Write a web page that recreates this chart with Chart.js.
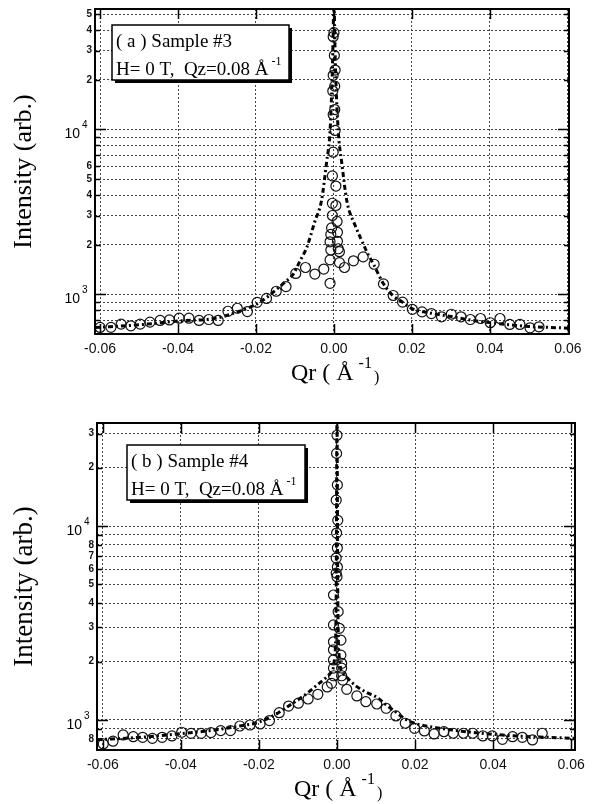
<!DOCTYPE html>
<html>
<head>
<meta charset="utf-8">
<script src="https://cdn.jsdelivr.net/npm/chart.js@4.4.1/dist/chart.umd.min.js"></script>
<style>
  html, body { margin: 0; padding: 0; background: #fff; }
  #wrap { position: relative; width: 594px; height: 804px; }
  canvas { position: absolute; left: 0; }
</style>
</head>
<body>
<div id="wrap">
  <canvas id="chartA" width="594" height="400" style="top:0"></canvas>
  <canvas id="chartB" width="594" height="404" style="top:400px"></canvas>
</div>
<script>
// ---- shared axis ticks ----
const X_TICKS = [-0.06, -0.04, -0.02, 0, 0.02, 0.04, 0.06];
const X_TICK_LABELS = ["-0.06", "-0.04", "-0.02", "0.00", "0.02", "0.04", "0.06"];

// ---- panel (a): sample #3 ----
const Y_TICKS_A = [700, 800, 900, 1000, 2000, 3000, 4000, 5000, 6000, 7000, 8000, 9000, 10000, 20000, 30000, 40000, 50000];
const Y_LABELS_A = ["", "", "", "10^3", "2", "3", "4", "5", "6", "", "", "", "10^4", "2", "3", "4", "5"];

const QR_A = [
  -0.0600, -0.0572, -0.0546, -0.0521, -0.0497, -0.0472, -0.0446, -0.0422, -0.0397, -0.0372,
  -0.0346, -0.0321, -0.0297, -0.0272, -0.0248, -0.0222, -0.0197, -0.0173, -0.0148, -0.0123,
  -0.0098, -0.0073, -0.0049, -0.0026, -0.0010,
  -0.0010, -0.0008, -0.0010, -0.0008, -0.0006, -0.0004, -0.0004, -0.0004,
  -0.0002, 0.0003, -0.0002, 0.0002, -0.0003, 0.0002, -0.0002, 0.0003, 0.0001, -0.0002, 0.0000,
  0.0005, 0.0005, 0.0008, 0.0009, 0.0009, 0.0011, 0.0014, 0.0014,
  0.0027, 0.0050, 0.0075, 0.0103, 0.0127, 0.0152, 0.0176, 0.0201, 0.0226, 0.0250,
  0.0276, 0.0301, 0.0326, 0.0350, 0.0376, 0.0401, 0.0426, 0.0451, 0.0477, 0.0503, 0.0526
];
const INT_A = [
  631, 632, 661, 646, 661, 680, 696, 701, 718, 718,
  696, 705, 696, 791, 825, 788, 896, 946, 1046, 1117,
  1341, 1457, 1330, 1426, 1169,
  1620, 1860, 2085, 2310, 2530, 3010, 3570, 5230,
  7280, 9860, 12300, 13200, 17100, 18300, 21300, 22900, 28100, 36500, 38600,
  4540, 3460, 2770, 2380, 2100, 1892, 1817, 1560,
  1457, 1600, 1689, 1525, 1159, 986, 899, 813, 784, 766,
  732, 759, 732, 705, 715, 674, 715, 658, 658, 628, 637
];
const FIT_QR_A = [
  -0.0613, -0.05, -0.04, -0.03, -0.025, -0.02, -0.0175, -0.015, -0.0125, -0.0104,
  -0.0087, -0.007, -0.0049, -0.0032, -0.0019, -0.001, -0.0004, 0.0, 0.0004, 0.0011,
  0.002, 0.0033, 0.0055, 0.007, 0.0085, 0.0103, 0.0127, 0.015, 0.0175, 0.02,
  0.025, 0.03, 0.035, 0.04, 0.045, 0.05, 0.0603
];
const FIT_INT_A = [
  630, 655, 690, 720, 780, 870, 950, 1060, 1190, 1330,
  1600, 1920, 2770, 3700, 6300, 9800, 22900, 55000, 22900, 9800,
  6300, 3700, 2600, 2150, 1800, 1500, 1160, 990, 900, 820,
  770, 735, 700, 675, 655, 640, 625
];

// ---- panel (b): sample #4 ----
const Y_TICKS_B = [800, 900, 1000, 2000, 3000, 4000, 5000, 6000, 7000, 8000, 9000, 10000, 20000, 30000];
const Y_LABELS_B = ["8", "", "10^3", "2", "3", "4", "5", "6", "7", "8", "", "10^4", "2", "3"];

const QR_B = [
  -0.0599, -0.0574, -0.0548, -0.0522, -0.0498, -0.0473, -0.0448, -0.0423, -0.0398, -0.0374,
  -0.0348, -0.0323, -0.0298, -0.0273, -0.0249, -0.0223, -0.0197, -0.0173, -0.0148, -0.0124,
  -0.0099, -0.0074, -0.0049, -0.0025,
  -0.0014, -0.0009, -0.0009, -0.0009, -0.0009, -0.0009, -0.0009, -0.0009,
  0.0015, 0.0012, 0.0012, 0.0012, 0.0010, 0.0010, 0.0006, 0.0003, 0.0000,
  -0.0002, 0.0001, -0.0002, 0.0001, -0.0001, 0.0002, -0.0002, 0.0001, -0.0001, 0.0000,
  0.0025, 0.0051, 0.0074, 0.0102, 0.0126, 0.0151, 0.0175, 0.0199, 0.0224, 0.0249,
  0.0274, 0.0298, 0.0324, 0.0348, 0.0374, 0.0398, 0.0424, 0.0450, 0.0475, 0.0501, 0.0526
];
const INT_B = [
  752, 777, 837, 820, 814, 804, 814, 827, 864, 853,
  853, 860, 881, 881, 931, 942, 954, 993, 1090, 1180,
  1220, 1283, 1356, 1480,
  1545, 1690, 1850, 2040, 2300, 2530, 3090, 4410,
  1607, 1690, 1850, 1960, 2160, 2580, 2970, 3620, 5480,
  5720, 6150, 6840, 7700, 9200, 10700, 13600, 16300, 23700, 29400,
  1439, 1330, 1242, 1209, 1149, 1049, 962, 906, 878, 847,
  870, 854, 854, 854, 827, 827, 795, 820, 814, 789, 854
];
const FIT_QR_B = [
  -0.0615, -0.05, -0.04, -0.03, -0.025, -0.02, -0.015, -0.0124, -0.01, -0.0075,
  -0.005, -0.003, -0.0015, -0.0006, -0.0002, 0.0, 0.0002, 0.0006, 0.0015, 0.003,
  0.005, 0.0075, 0.0102, 0.0125, 0.0153, 0.0175, 0.02, 0.025, 0.028, 0.032,
  0.037, 0.041, 0.046, 0.054, 0.061
];
const FIT_INT_B = [
  790, 815, 850, 895, 930, 975, 1090, 1180, 1270, 1380,
  1520, 1640, 1760, 2100, 4500, 36000, 4500, 2100, 1750, 1620,
  1490, 1390, 1310, 1200, 1090, 1010, 960, 915, 896, 875,
  854, 840, 827, 814, 804
];

const SERIF = "'Liberation Serif', 'Times New Roman', serif";
const SANS = "'Liberation Sans', Arial, sans-serif";

// box captions
const CAPTION_A = ["( a ) Sample #3", "H= 0 T,  Qz=0.08 \u00C5"];
const CAPTION_B = ["( b ) Sample #4", "H= 0 T,  Qz=0.08 \u00C5"];

function toPoints(xs, ys) {
  return xs.map((x, i) => ({ x, y: ys[i] }));
}

function makeDecor(p) {
  return {
    id: "panelDecor",
    afterDraw(chart) {
      const { ctx, chartArea: area, scales } = chart;
      const xs = scales.x;
      const ys = scales.y;
      ctx.save();
      ctx.strokeStyle = "#000";
      ctx.fillStyle = "#000";

      // inward tick marks on all four sides
      ctx.lineWidth = 1.5;
      ctx.beginPath();
      X_TICKS.forEach((v) => {
        const px = Math.round(xs.getPixelForValue(v)) + 0.5;
        ctx.moveTo(px, area.bottom);
        ctx.lineTo(px, area.bottom - 10);
        ctx.moveTo(px, area.top);
        ctx.lineTo(px, area.top + 10);
      });
      p.yTicks.forEach((v, i) => {
        const py = Math.round(ys.getPixelForValue(v)) + 0.5;
        const len = p.yLabels[i].includes("^") ? 11 : 5;
        ctx.moveTo(area.left, py);
        ctx.lineTo(area.left + len, py);
        ctx.moveTo(area.right, py);
        ctx.lineTo(area.right - len, py);
      });
      ctx.stroke();

      ctx.lineWidth = 2;
      ctx.strokeRect(area.left, area.top, area.right - area.left, area.bottom - area.top);

      // decade labels 10^n
      p.yTicks.forEach((v, i) => {
        const lab = p.yLabels[i];
        if (!lab.includes("^")) return;
        const [base, exp] = lab.split("^");
        const py = ys.getPixelForValue(v);
        ctx.font = "14px " + SANS;
        ctx.textAlign = "right";
        ctx.textBaseline = "alphabetic";
        ctx.fillText(base, area.left - 15, py + 9);
        ctx.font = "10px " + SANS;
        ctx.textAlign = "left";
        ctx.fillText(exp, area.left - 13, py - 1);
      });

      // x title: Qr ( Å -1 )
      const x0 = xs.getPixelForValue(0) - 43;
      const base = area.bottom + 46;
      ctx.textAlign = "left";
      ctx.font = "24px " + SERIF;
      const main = "Qr ( \u00C5";
      ctx.fillText(main, x0, base);
      let cx = x0 + ctx.measureText(main).width + 5;
      ctx.font = "16px " + SERIF;
      ctx.fillText("-1", cx, base - 12);
      cx += ctx.measureText("-1").width + 2;
      ctx.fillText(")", cx, base + 2);

      // caption box with drop shadow
      const b = p.box;
      ctx.fillRect(b.x + 3, b.y + 3, b.w, b.h);
      ctx.fillStyle = "#fff";
      ctx.fillRect(b.x, b.y, b.w, b.h);
      ctx.fillStyle = "#000";
      ctx.lineWidth = 1.5;
      ctx.strokeRect(b.x, b.y, b.w, b.h);
      ctx.font = "19px " + SERIF;
      ctx.fillText(p.caption[0], b.x + 4, b.y + 22);
      ctx.fillText(p.caption[1], b.x + 4, b.y + 50);
      const w2 = ctx.measureText(p.caption[1]).width;
      ctx.font = "12px " + SERIF;
      ctx.fillText("-1", b.x + 4 + w2 + 3, b.y + 40);

      ctx.restore();
    },
  };
}

function makePanel(canvasId, p) {
  const canvas = document.getElementById(canvasId);
  return new Chart(canvas, {
    type: "scatter",
    data: {
      datasets: [
        {
          label: "data",
          data: toPoints(p.qr, p.intensity),
          showLine: false,
          pointStyle: "circle",
          pointRadius: 5,
          pointBorderWidth: 1.2,
          pointBorderColor: "#111",
          pointBackgroundColor: "rgba(0,0,0,0)",
        },
        {
          label: "fit",
          data: toPoints(p.fitQr, p.fitInt),
          showLine: true,
          borderColor: "#000",
          borderWidth: 3,
          borderDash: [5, 3, 2, 3],
          pointRadius: 0,
          cubicInterpolationMode: "monotone",
          fill: false,
        },
      ],
    },
    options: {
      responsive: false,
      animation: false,
      devicePixelRatio: 1,
      events: [],
      layout: { padding: { top: p.padTop, right: p.padRight, left: 0, bottom: 0 } },
      plugins: {
        legend: { display: false },
        tooltip: { enabled: false },
      },
      scales: {
        x: {
          type: "linear",
          min: p.xMin,
          max: p.xMax,
          afterBuildTicks: (scale) => {
            scale.ticks = X_TICKS.map((value) => ({ value }));
          },
          afterFit: (scale) => {
            scale.height = p.xAxisHeight;
          },
          ticks: {
            autoSkip: false,
            maxRotation: 0,
            padding: 7,
            color: "#111",
            font: { family: SANS, size: 14 },
            callback: (value, index) => X_TICK_LABELS[index],
          },
          grid: { color: "#444", lineWidth: 1, drawTicks: false },
          border: { display: false, dash: [2, 2] },
        },
        y: {
          type: "logarithmic",
          min: p.yMin,
          max: p.yMax,
          afterBuildTicks: (scale) => {
            scale.ticks = p.yTicks.map((value) => ({ value }));
          },
          afterFit: (scale) => {
            scale.width = p.yAxisWidth;
          },
          ticks: {
            autoSkip: false,
            padding: 3,
            color: "#111",
            font: { family: SANS, size: 10, weight: "bold" },
            callback: (value, index) => {
              const lab = p.yLabels[index];
              return lab.includes("^") ? "" : lab;
            },
          },
          grid: { color: "#444", lineWidth: 1, drawTicks: false },
          border: { display: false, dash: [2, 2] },
          title: {
            display: true,
            text: "Intensity (arb.)",
            color: "#000",
            font: { family: SERIF, size: p.titleSize },
            padding: { top: 9, bottom: 0 },
          },
        },
      },
    },
    plugins: [makeDecor(p)],
  });
}

makePanel("chartA", {
  qr: QR_A, intensity: INT_A, fitQr: FIT_QR_A, fitInt: FIT_INT_A,
  yTicks: Y_TICKS_A, yLabels: Y_LABELS_A, caption: CAPTION_A,
  xMin: -0.0613, xMax: 0.0603, yMin: 576, yMax: 53700,
  padTop: 5, padRight: 25, yAxisWidth: 95, xAxisHeight: 66, titleSize: 26,
  box: { x: 112, y: 25, w: 177, h: 55 },
});

makePanel("chartB", {
  qr: QR_B, intensity: INT_B, fitQr: FIT_QR_B, fitInt: FIT_INT_B,
  yTicks: Y_TICKS_B, yLabels: Y_LABELS_B, caption: CAPTION_B,
  xMin: -0.0615, xMax: 0.061, yMin: 700, yMax: 34000,
  padTop: 23, padRight: 19, yAxisWidth: 97, xAxisHeight: 54, titleSize: 27,
  box: { x: 127, y: 45, w: 178, h: 55 },
});
</script>
</body>
</html>
